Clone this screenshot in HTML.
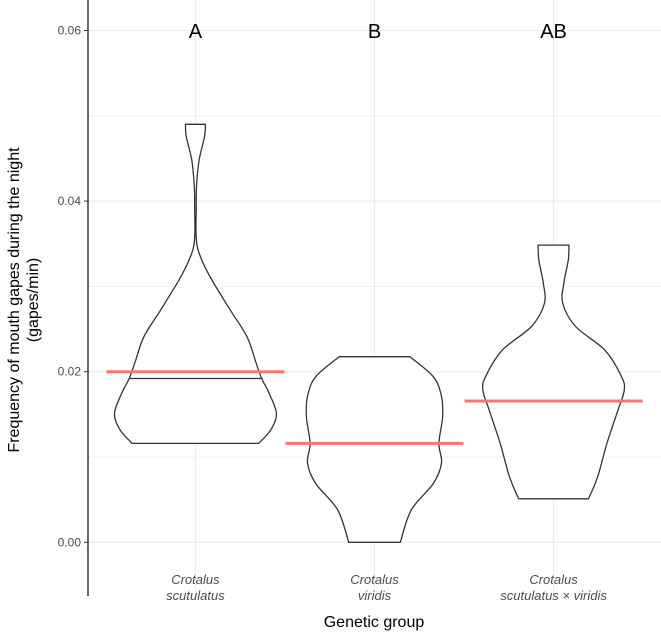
<!DOCTYPE html>
<html><head><meta charset="utf-8"><style>
body{margin:0;background:#fff}
svg{display:block;font-family:"Liberation Sans",Arial,sans-serif}
</style></head><body>
<svg id="c" width="661" height="636"></svg>
<script>
const categories=["Crotalus|scutulatus","Crotalus|viridis","Crotalus|scutulatus × viridis"];
const letters=["A","B","AB"];
const means=[0.0200,0.0116,0.01656];
const medians=[0.0192,null,null];
const yTicks=[0,0.02,0.04,0.06];
const yTickLabels=["0.00","0.02","0.04","0.06"];
// density outlines: value, relative half-width
const violinA=[[0.049,27],[0.0476,25],[0.0448,10],[0.0417,3],[0.039,2],[0.0358,2],[0.0339,10],[0.0311,40],[0.0272,95],[0.0241,140],[0.0210,165],[0.0192,180],[0.0175,200],[0.0151,220],[0.0132,205],[0.0116,172]];
const violinB=[[0.02176,96],[0.0194,160],[0.0171,182],[0.0147,185],[0.0116,175],[0.0093,182],[0.0069,160],[0.0038,100],[0,70]];
const violinC=[[0.03484,42],[0.0331,40],[0.0304,28],[0.028,25],[0.0253,60],[0.0225,140],[0.0194,185],[0.0178,192],[0.0155,175],[0.0116,145],[0.0077,120],[0.0051,95]];
const violins=[violinA,violinB,violinC];

const ns="http://www.w3.org/2000/svg",svg=document.getElementById("c");
const X0=88,X1=661;
const xs=i=>X0+(i+1-0.4)/3.2*(X1-X0);
const ys=v=>542.3-v*8530;
const wScale=0.368;
function el(t,a,txt){const e=document.createElementNS(ns,t);for(const k in a)e.setAttribute(k,a[k]);if(txt!=null)e.textContent=txt;svg.appendChild(e);return e;}
function smooth(p){let d="M"+p[0][0].toFixed(1)+","+p[0][1].toFixed(1);
for(let i=0;i<p.length-1;i++){const a=p[Math.max(i-1,0)],b=p[i],c=p[i+1],e=p[Math.min(i+2,p.length-1)];
const c1=[b[0]+(c[0]-a[0])/6,b[1]+(c[1]-a[1])/6],c2=[c[0]-(e[0]-b[0])/6,c[1]-(e[1]-b[1])/6];
d+="C"+c1.map(v=>v.toFixed(1))+" "+c2.map(v=>v.toFixed(1))+" "+c.map(v=>v.toFixed(1));}return d;}
// grid
for(let v=0;v<=0.06001;v+=0.01){const g=el("line",{x1:X0,x2:X1,y1:ys(v),y2:ys(v),stroke:"#ebebeb","stroke-width":Math.round(v*100)%2?0.6:1.1});
}
categories.forEach((c,i)=>{const g=el("line",{x1:xs(i),x2:xs(i),y1:0,y2:596,stroke:"#ebebeb","stroke-width":1.1});
});
// violins
violins.forEach((pts,i)=>{const cx=xs(i);let r=pts.map(p=>[cx+p[1]*wScale,ys(p[0])]);let l=pts.slice().reverse().map(p=>[cx-p[1]*wScale,ys(p[0])]);
const d=smooth(r)+"L"+smooth(l).slice(1)+"Z";
const p=el("path",{d:d,fill:"#fff",stroke:"#333","stroke-width":1.3,"stroke-linejoin":"round"});

if(medians[i]!=null){const m=medians[i];let hw=0;for(let k=0;k<pts.length-1;k++){if(pts[k][0]>=m&&pts[k+1][0]<=m){const t=(pts[k][0]-m)/(pts[k][0]-pts[k+1][0]);hw=pts[k][1]+t*(pts[k+1][1]-pts[k][1]);}}
const ml=el("line",{x1:cx-hw*wScale,x2:cx+hw*wScale,y1:ys(m),y2:ys(m),stroke:"#333","stroke-width":1.3});
}
const mn=el("line",{x1:cx-89,x2:cx+89,y1:ys(means[i]),y2:ys(means[i]),stroke:"#F8766D","stroke-width":3});

const lt=el("text",{x:cx,y:38,"text-anchor":"middle","font-size":20,fill:"#000"},letters[i]);

const lines=categories[i].split("|");
lines.forEach((s,j)=>{const t=el("text",{x:cx,y:584+j*16,"text-anchor":"middle","font-size":13,"font-style":"italic",fill:"#4d4d4d"},s);
});
});
// axes
const ax=el("line",{x1:X0,x2:X0,y1:0,y2:596,stroke:"#000","stroke-width":1.2});
yTicks.forEach((v,i)=>{const t=el("line",{x1:X0-4,x2:X0,y1:ys(v),y2:ys(v),stroke:"#333"});
const l=el("text",{x:X0-7,y:ys(v)+4,"text-anchor":"end","font-size":12,fill:"#4d4d4d"},yTickLabels[i]);});
const yt=el("text",{transform:"translate(19,300) rotate(-90)","text-anchor":"middle","font-size":16,fill:"#000"},"Frequency of mouth gapes during the night");

const yt2=el("text",{transform:"translate(38,300) rotate(-90)","text-anchor":"middle","font-size":16,fill:"#000"},"(gapes/min)");

const xt=el("text",{x:374,y:627,"text-anchor":"middle","font-size":16,fill:"#000"},"Genetic group");

</script>
</body></html>
